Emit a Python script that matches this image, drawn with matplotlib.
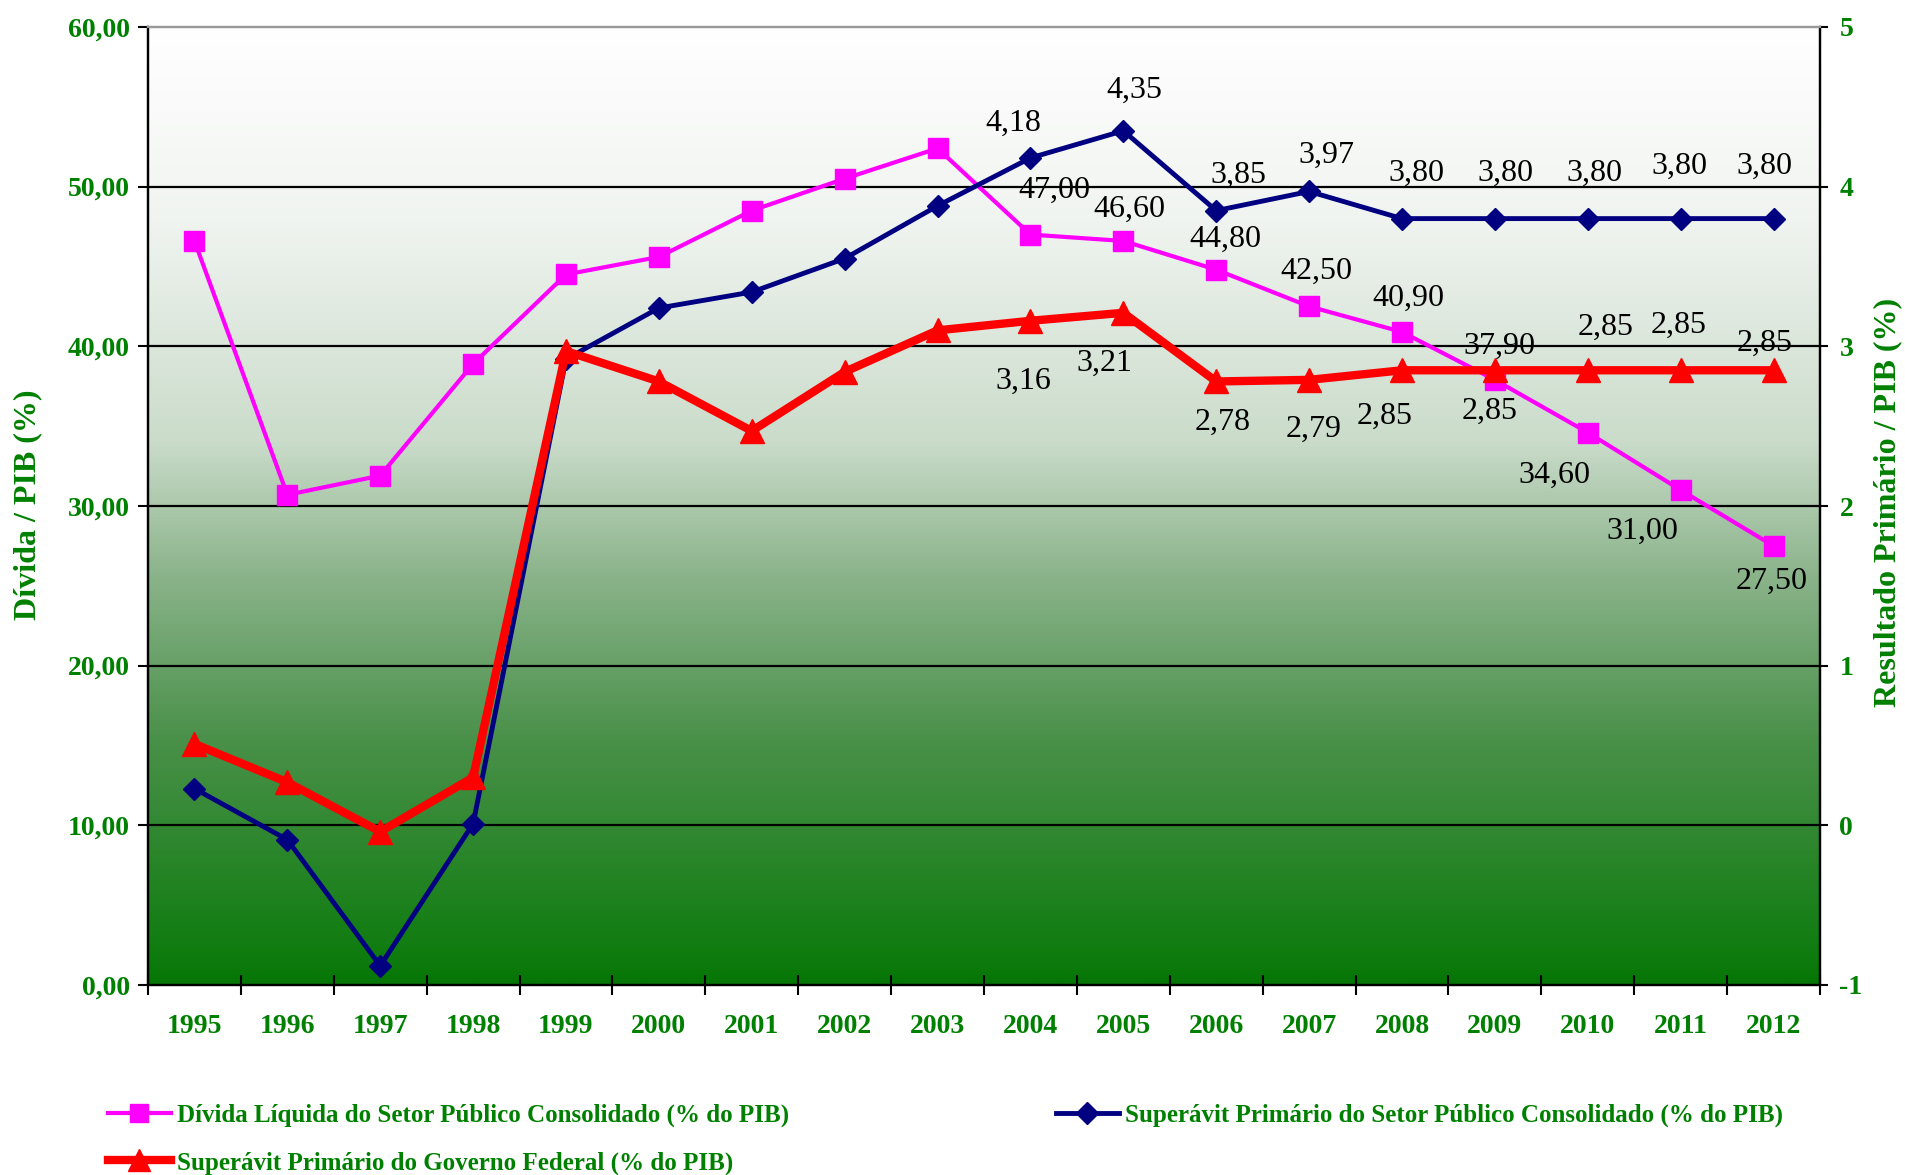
import numpy as np
import matplotlib
matplotlib.use('Agg')
import matplotlib.pyplot as plt
from matplotlib.colors import LinearSegmentedColormap
from matplotlib.lines import Line2D

# ---------------- data ----------------
years = ['1995', '1996', '1997', '1998', '1999', '2000', '2001', '2002', '2003',
         '2004', '2005', '2006', '2007', '2008', '2009', '2010', '2011', '2012']
divida = [46.6, 30.7, 31.9, 38.9, 44.5, 45.6, 48.5, 50.5, 52.4,
          47.0, 46.6, 44.8, 42.5, 40.9, 37.9, 34.6, 31.0, 27.5]
sup_consolidado = [0.23, -0.09, -0.88, 0.01, 2.92, 3.24, 3.34, 3.55, 3.88,
                   4.18, 4.35, 3.85, 3.97, 3.80, 3.80, 3.80, 3.80, 3.80]
sup_federal = [0.51, 0.27, -0.04, 0.30, 2.97, 2.78, 2.47, 2.84, 3.10,
               3.16, 3.21, 2.78, 2.79, 2.85, 2.85, 2.85, 2.85, 2.85]
left_ticks = [0, 10, 20, 30, 40, 50, 60]
right_ticks = [-1, 0, 1, 2, 3, 4, 5]
label_start = 9  # data labels from 2004 onwards

name_div = 'Dívida Líquida do Setor Público Consolidado (% do PIB)'
name_cons = 'Superávit Primário do Setor Público Consolidado (% do PIB)'
name_fed = 'Superávit Primário do Governo Federal (% do PIB)'

# label offsets (pixels) for 2004..2012
off_cons = [(-17, 35), (11, 40), (22, 35), (17, 36), (14, 45), (11, 45), (7, 45), (-1, 52), (-9, 52)]
off_div = [(24, 44), (6, 32), (9, 30), (7, 35), (6, 34), (5, 34), (-33, -43), (-38, -41), (-2, -35)]
off_fed = [(-7, -61), (-19, -51), (6, -41), (5, -49), (-17, -46), (-5, -41), (18, 43), (-2, 45), (-9, 27)]

GREEN = '#008000'
SERIF = 'Liberation Serif'

def fmt(v):
    return ('%.2f' % v).replace('.', ',')

fig = plt.figure(figsize=(19.06, 11.75), dpi=100)
ax = fig.add_axes([148/1906, 1 - 985/1175, (1820-148)/1906, (985-27)/1175])
x = np.arange(len(years))

# gradient background
def c(r, g, b):
    return (r/255, g/255, b/255)
cmap = LinearSegmentedColormap.from_list('bg', [
    (0.0, c(5, 118, 5)),
    (0.03, c(15, 124, 15)),
    (0.26, c(75, 145, 75)),
    (0.43, c(140, 180, 140)),
    (0.57, c(203, 220, 203)),
    (0.80, c(240, 244, 240)),
    (0.95, c(252, 252, 252)),
    (1.0, c(255, 255, 255))])
grad = np.linspace(0, 1, 512).reshape(-1, 1)
ax.imshow(grad, extent=[-0.5, len(years) - 0.5, 0, 60], origin='lower',
          aspect='auto', cmap=cmap, zorder=0)

ax.set_xlim(-0.5, len(years) - 0.5)
ax.set_ylim(0, 60)
for v in left_ticks[1:-1]:
    ax.axhline(v, color='black', lw=1.6, zorder=1)

ax.plot(x, divida, color='#FF00FF', lw=3, marker='s', markersize=14,
        zorder=3, label=name_div)

ax2 = ax.twinx()
ax2.set_ylim(-1, 5)
ax2.plot(x, sup_consolidado, color='#000080', lw=3.5, marker='D', markersize=11,
         zorder=3, label=name_cons)
ax2.plot(x, sup_federal, color='#FF0000', lw=6, marker='^', markersize=17,
         zorder=4, label=name_fed)

LBL = dict(textcoords='offset pixels', ha='center', va='center',
           fontsize=23, family=SERIF, color='black', zorder=6)
for i, (dx, dy) in zip(range(label_start, len(years)), off_cons):
    ax2.annotate(fmt(sup_consolidado[i]), (x[i], sup_consolidado[i]),
                 xytext=(dx, dy), **LBL)
for i, (dx, dy) in zip(range(label_start, len(years)), off_fed):
    ax2.annotate(fmt(sup_federal[i]), (x[i], sup_federal[i]),
                 xytext=(dx, dy), **LBL)
for i, (dx, dy) in zip(range(label_start, len(years)), off_div):
    ax.annotate(fmt(divida[i]), (x[i], divida[i]), xytext=(dx, dy), **LBL)

# axes styling
for a in (ax, ax2):
    for s in a.spines.values():
        s.set_color('black')
        s.set_linewidth(1.6)
    a.spines['top'].set_color('#999999')

ax.set_xticks(np.arange(-0.5, len(years), 1.0))
ax.set_xticklabels([])
ax.set_xticks(x, minor=True)
ax.set_xticklabels(years, minor=True)
ax.tick_params(axis='x', which='major', direction='inout', length=14, width=1.5)
ax.tick_params(axis='x', which='minor', length=0, pad=21, labelsize=20,
               labelcolor=GREEN)
for t in ax.get_xticklabels(minor=True):
    t.set_fontfamily(SERIF)
    t.set_fontweight('bold')

ax.set_yticks(left_ticks)
ax.set_yticklabels([fmt(v) for v in left_ticks])
ax.tick_params(axis='y', direction='out', length=7, width=1.5, pad=6,
               labelsize=20, labelcolor=GREEN)
for t in ax.get_yticklabels():
    t.set_fontfamily(SERIF)
    t.set_fontweight('bold')

ax2.set_yticks(right_ticks)
ax2.set_yticklabels([str(v) for v in right_ticks])
ax2.tick_params(axis='y', direction='out', length=6, width=1.5, pad=8,
                labelsize=20, labelcolor=GREEN)
for t in ax2.get_yticklabels():
    t.set_fontfamily(SERIF)
    t.set_fontweight('bold')

fig.text(28/1906, 1 - 505/1175, 'Dívida / PIB (%)', rotation=90, ha='center',
         va='center', color=GREEN, fontsize=23, fontweight='bold', family=SERIF)
fig.text(1888/1906, 1 - 502/1175, 'Resultado Primário / PIB (%)', rotation=90,
         ha='center', va='center', color=GREEN, fontsize=23, fontweight='bold',
         family=SERIF)

# legends
h_div = Line2D([], [], color='#FF00FF', lw=3, marker='s', markersize=13)
h_cons = Line2D([], [], color='#000080', lw=3.5, marker='D', markersize=11)
h_fed = Line2D([], [], color='#FF0000', lw=6, marker='^', markersize=16)
LEG = dict(loc='upper left', frameon=False,
           prop={'family': SERIF, 'weight': 'bold', 'size': 18},
           handlelength=2.5, handletextpad=0.25, labelspacing=0.95,
           borderaxespad=0, borderpad=0)
leg1 = fig.legend([h_div, h_fed], [name_div, name_fed],
                  bbox_to_anchor=(108/1906, 1 - 1104/1175), **LEG)
for t in leg1.get_texts():
    t.set_color(GREEN)
leg2 = fig.legend([h_cons], [name_cons],
                  bbox_to_anchor=(1056/1906, 1 - 1104/1175), **LEG)
for t in leg2.get_texts():
    t.set_color(GREEN)

fig.savefig('out.png', dpi=100)
